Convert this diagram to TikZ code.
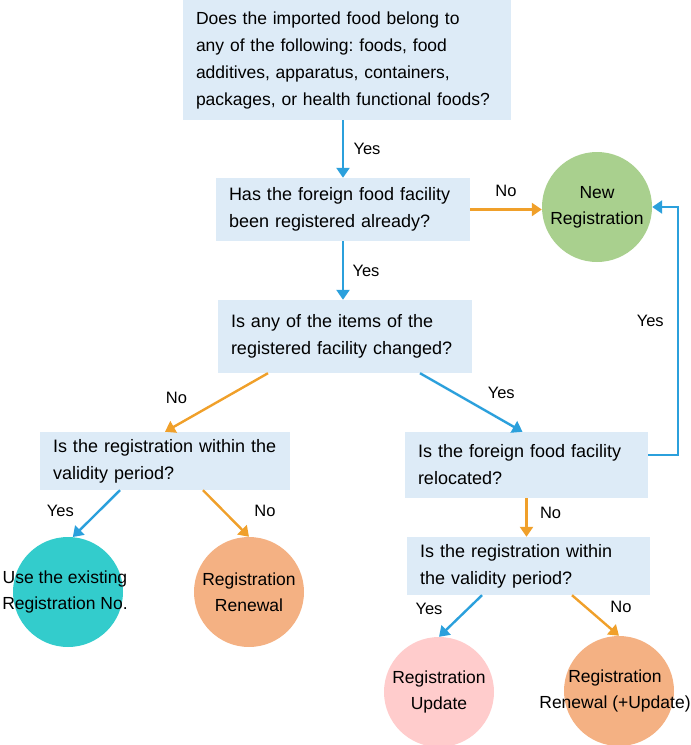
\documentclass[tikz,border=0pt]{standalone}
\usepackage{fontspec}
\setmainfont{Liberation Sans}
\usepackage{xcolor}
\usepackage{tikz}
\usetikzlibrary{arrows.meta,positioning,calc}
\frenchspacing

\definecolor{boxblue}{HTML}{DDEBF7}
\definecolor{arrowblue}{HTML}{2BA0DC}
\definecolor{arroworange}{HTML}{F0A02A}
\definecolor{newgreen}{HTML}{A9D08E}
\definecolor{useteal}{HTML}{33CCCC}
\definecolor{reneworange}{HTML}{F4B183}
\definecolor{updatepink}{HTML}{FFCCCC}
\newcommand\qfont{\fontsize{18}{27}\selectfont}
\newcommand\cfont{\fontsize{17.5}{26}\selectfont}
\newcommand\lblfont{\fontsize{16.5}{19}\selectfont}

\begin{document}
\begin{tikzpicture}[x=1pt,y=-1pt,
  question/.style={rectangle,fill=boxblue,align=left,inner xsep=13pt,inner ysep=0pt,font=\qfont},
  outcome/.style={circle,minimum size=110pt,inner sep=0pt},
  outtext/.style={align=center,font=\cfont},
  yesline/.style={draw=arrowblue,line width=2.4pt,-{Triangle[length=10pt,width=13pt]}},
  noline/.style={draw=arroworange,line width=2.4pt,-{Triangle[length=10pt,width=13pt]}},
  lbl/.style={font=\lblfont,text=black}]
  \useasboundingbox (0,0) rectangle (691,745);

  % questions
  \node[question,font=\fontsize{17.5}{27}\selectfont,text width=302pt,minimum height=120pt] (imported) at (347,60)
    {Does the imported food belong to\\any of the following: foods, food\\additives, apparatus, containers,\\packages, or health functional foods?};
  \node[question,text width=228pt,minimum height=63pt] (registered) at (343,209.5)
    {Has the foreign food facility\\been registered already?};
  \node[question,text width=228pt,minimum height=73pt] (changed) at (345,336.5)
    {Is any of the items of the\\registered facility changed?};
  \node[question,text width=224pt,minimum height=58pt] (validleft) at (165,461)
    {Is the registration within the\\validity period?};
  \node[question,text width=217pt,minimum height=66pt] (relocated) at (526.5,465)
    {Is the foreign food facility\\relocated?};
  \node[question,text width=217pt,minimum height=58pt] (validright) at (528.5,566)
    {Is the registration within\\the validity period?};

  % outcomes
  \node[outcome,fill=newgreen,label={[outtext]center:New\\Registration}] (newreg) at (597,207) {};
  \node[outcome,fill=useteal,label={[outtext,xshift=-3pt]center:Use the existing\\Registration No.}] (useno) at (68,592) {};
  \node[outcome,fill=reneworange,label={[outtext]center:Registration\\Renewal}] (renewal) at (249,592) {};
  \node[outcome,fill=updatepink,label={[outtext]center:Registration\\Update}] (update) at (439,692) {};
  \node[outcome,fill=reneworange,label={[outtext,xshift=-4pt]center:Registration\\Renewal (+Update)}] (renewupd) at (619,691) {};

  % arrows and labels
  \draw[yesline] (registered.north |- imported.south) -- (registered.north)
    node[midway,right=6pt,lbl]{Yes};
  \draw[noline] (registered.east) -- (registered.east -| newreg.west)
    node[midway,above=8pt,lbl]{No};
  \draw[yesline] (registered.south) -- (registered.south |- changed.north)
    node[midway,right=5pt,lbl]{Yes};
  \draw[noline] ([xshift=-77pt]changed.south) -- (validleft.north)
    node[midway,xshift=-40pt,yshift=5pt,lbl]{No};
  \draw[yesline] ([xshift=75pt]changed.south) -- ([xshift=-4pt]relocated.north)
    node[midway,xshift=30pt,yshift=10pt,lbl]{Yes};
  \draw[yesline] ([yshift=10pt]relocated.east) -- ++(30,0) |- (newreg.east)
    node[pos=0.27,left=10pt,lbl]{Yes};
  \draw[yesline] ([xshift=-45pt]validleft.south) -- (useno.85)
    node[midway,xshift=-36pt,yshift=3pt,lbl]{Yes};
  \draw[noline] ([xshift=38pt]validleft.south) -- (renewal.north)
    node[midway,xshift=39pt,yshift=3pt,lbl]{No};
  \draw[noline] (relocated.south) -- (relocated.south |- validright.north)
    node[midway,right=9pt,yshift=5pt,lbl]{No};
  \draw[yesline] ([xshift=-46.5pt]validright.south) -- (update.north)
    node[midway,xshift=-31.5pt,yshift=7pt,lbl]{Yes};
  \draw[noline] ([xshift=43.5pt]validright.south) -- (renewupd.north)
    node[midway,xshift=25.5pt,yshift=8.5pt,lbl]{No};
\end{tikzpicture}
\end{document}
